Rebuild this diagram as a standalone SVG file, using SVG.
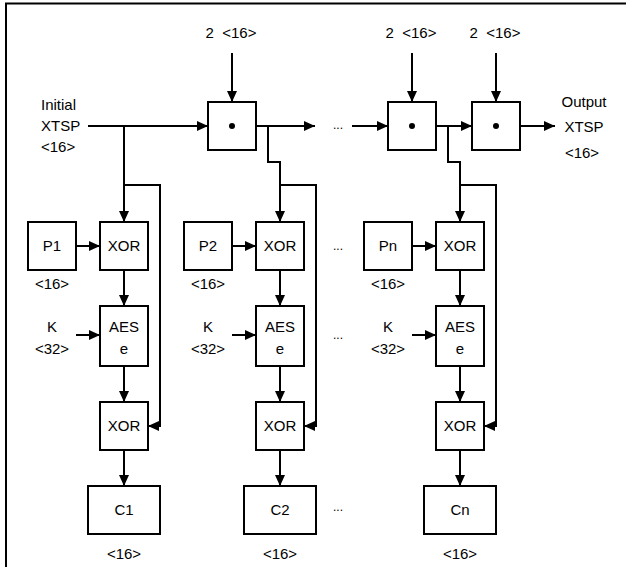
<svg xmlns="http://www.w3.org/2000/svg" width="626" height="567" viewBox="0 0 626 567">
<defs>
<marker id="ah" markerUnits="userSpaceOnUse" markerWidth="12" markerHeight="10" refX="11" refY="5" orient="auto">
<path d="M0,0 L11,5 L0,10 Z" fill="#000"/>
</marker>
<style>
.b{fill:#fff;stroke:#000;stroke-width:2}
.c{fill:none;stroke:#000;stroke-width:2}
.a{fill:none;stroke:#000;stroke-width:2;marker-end:url(#ah)}
text{font-family:"Liberation Sans",Arial,sans-serif;font-size:15px;fill:#000}
.m{text-anchor:middle}
.d{font-size:12px}
</style>
</defs>
<rect width="626" height="567" fill="#fff"/>
<path class="c" d="M6,567 V3.5 H626"/>

<g id="labels">
<text x="41" y="110">Initial</text>
<text x="41" y="131">XTSP</text>
<text x="41" y="152">&lt;16&gt;</text>
<text class="m" x="584" y="107">Output</text>
<text class="m" x="584" y="132">XTSP</text>
<text class="m" x="582" y="158">&lt;16&gt;</text>
<text class="m" x="231" y="38" xml:space="preserve">2  &lt;16&gt;</text>
<text class="m" x="411" y="38" xml:space="preserve">2  &lt;16&gt;</text>
<text class="m" x="495" y="38" xml:space="preserve">2  &lt;16&gt;</text>
<text class="m d" x="338" y="129">...</text>
<text class="m d" x="338" y="250">...</text>
<text class="m d" x="338" y="339">...</text>
<text class="m d" x="338" y="511">...</text>
</g>

<g id="mul1"><rect class="b" x="208" y="102" width="48" height="48"/><circle cx="232" cy="126" r="3"/></g>
<g id="mul2"><rect class="b" x="388" y="102" width="48" height="48"/><circle cx="412" cy="126" r="3"/></g>
<g id="mul3"><rect class="b" x="472" y="102" width="48" height="48"/><circle cx="496" cy="126" r="3"/></g>

<g id="P1"><rect class="b" x="28" y="222" width="48" height="48"/><text class="m" x="52" y="251">P1</text><text class="m" x="52" y="289">&lt;16&gt;</text></g>
<g id="xor1a"><rect class="b" x="100" y="222" width="48" height="48"/><text class="m" x="124" y="251">XOR</text></g>
<g id="K1"><text class="m" x="52" y="332">K</text><text class="m" x="52" y="354">&lt;32&gt;</text></g>
<g id="aes1"><rect class="b" x="100" y="306" width="48" height="60"/><text class="m" x="124" y="332">AES</text><text class="m" x="124" y="354">e</text></g>
<g id="xor1b"><rect class="b" x="100" y="402" width="48" height="48"/><text class="m" x="124" y="431">XOR</text></g>
<g id="C1"><rect class="b" x="88" y="486" width="72" height="48"/><text class="m" x="124" y="515">C1</text><text class="m" x="124" y="559">&lt;16&gt;</text></g>

<g id="P2"><rect class="b" x="184" y="222" width="48" height="48"/><text class="m" x="208" y="251">P2</text><text class="m" x="208" y="289">&lt;16&gt;</text></g>
<g id="xor2a"><rect class="b" x="256" y="222" width="48" height="48"/><text class="m" x="280" y="251">XOR</text></g>
<g id="K2"><text class="m" x="208" y="332">K</text><text class="m" x="208" y="354">&lt;32&gt;</text></g>
<g id="aes2"><rect class="b" x="256" y="306" width="48" height="60"/><text class="m" x="280" y="332">AES</text><text class="m" x="280" y="354">e</text></g>
<g id="xor2b"><rect class="b" x="256" y="402" width="48" height="48"/><text class="m" x="280" y="431">XOR</text></g>
<g id="C2"><rect class="b" x="244" y="486" width="72" height="48"/><text class="m" x="280" y="515">C2</text><text class="m" x="280" y="559">&lt;16&gt;</text></g>

<g id="Pn"><rect class="b" x="364" y="222" width="48" height="48"/><text class="m" x="388" y="251">Pn</text><text class="m" x="388" y="289">&lt;16&gt;</text></g>
<g id="xorna"><rect class="b" x="436" y="222" width="48" height="48"/><text class="m" x="460" y="251">XOR</text></g>
<g id="Kn"><text class="m" x="388" y="332">K</text><text class="m" x="388" y="354">&lt;32&gt;</text></g>
<g id="aesn"><rect class="b" x="436" y="306" width="48" height="60"/><text class="m" x="460" y="332">AES</text><text class="m" x="460" y="354">e</text></g>
<g id="xornb"><rect class="b" x="436" y="402" width="48" height="48"/><text class="m" x="460" y="431">XOR</text></g>
<g id="Cn"><rect class="b" x="424" y="486" width="72" height="48"/><text class="m" x="460" y="515">Cn</text><text class="m" x="460" y="559">&lt;16&gt;</text></g>

<g id="connectors">
<path class="a" d="M232,53 V102"/>
<path class="a" d="M412,53 V102"/>
<path class="a" d="M496,53 V102"/>
<path class="a" d="M88,126 H208"/>
<path class="a" d="M256,126 H315"/>
<path class="a" d="M352,126 H388"/>
<path class="a" d="M436,126 H472"/>
<path class="a" d="M520,126 H555"/>
<path class="a" d="M124,126 V222"/>
<path class="a" d="M124,185 H160 V426 H148"/>
<path class="a" d="M268,126 V162 H280 V222"/>
<path class="a" d="M280,185 H316 V426 H304"/>
<path class="a" d="M448,126 V162 H460 V222"/>
<path class="a" d="M460,185 H496 V426 H484"/>
<path class="a" d="M76,246 H100"/>
<path class="a" d="M232,246 H256"/>
<path class="a" d="M412,246 H436"/>
<path class="a" d="M76,335 H100"/>
<path class="a" d="M232,335 H256"/>
<path class="a" d="M412,335 H436"/>
<path class="a" d="M124,270 V306"/>
<path class="a" d="M280,270 V306"/>
<path class="a" d="M460,270 V306"/>
<path class="a" d="M124,366 V402"/>
<path class="a" d="M280,366 V402"/>
<path class="a" d="M460,366 V402"/>
<path class="a" d="M124,450 V486"/>
<path class="a" d="M280,450 V486"/>
<path class="a" d="M460,450 V486"/>
</g>
</svg>
